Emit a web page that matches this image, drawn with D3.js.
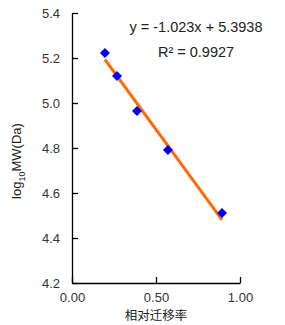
<!DOCTYPE html>
<html>
<head>
<meta charset="utf-8">
<script src="https://cdn.jsdelivr.net/npm/d3@7"></script>
<style>
  body { margin: 0; background: #fff; }
  text { font-family: "Liberation Sans", Arial, sans-serif; fill: #222; }
</style>
</head>
<body>
<div id="chart"></div>
<script>
// data
var migration = [0.196, 0.268, 0.387, 0.571, 0.893];
var logMW = [5.222, 5.120, 4.964, 4.791, 4.511];
var xTicks = [0, 0.5, 1.0];
var yTicks = [4.2, 4.4, 4.6, 4.8, 5.0, 5.2, 5.4];
var slope = -1.023, intercept = 5.3938;
var eqText = "y = -1.023x + 5.3938";
var r2Text = "R\u00b2 = 0.9927";

var margin = { top: 13, right: 45, bottom: 42, left: 72 },
  width = 285 - margin.left - margin.right,
  height = 325 - margin.top - margin.bottom;

var svg = d3.select("#chart")
  .append("svg")
  .attr("width", 285)
  .attr("height", 325)
  .append("g")
  .attr("transform", "translate(" + margin.left + "," + margin.top + ")");

var x = d3.scaleLinear().domain([0, 1]).range([0, width]);
var y = d3.scaleLinear().domain([4.2, 5.4]).range([height, 0]);

// axes, ticks pointing inward
var xAxis = svg.append("g")
  .attr("transform", "translate(0," + height + ")")
  .call(d3.axisBottom(x).tickValues(xTicks).tickFormat(d3.format(".2f")).tickSizeInner(-6).tickSizeOuter(0).tickPadding(10));
var yAxis = svg.append("g")
  .call(d3.axisLeft(y).tickValues(yTicks).tickFormat(d3.format(".1f")).tickSizeInner(-6).tickSizeOuter(0).tickPadding(12));

[xAxis, yAxis].forEach(function (a) {
  a.selectAll("path, line").attr("stroke", "#000").attr("stroke-width", 1.3);
  a.selectAll("text").style("font-size", "13px").style("fill", "#333")
    .style("font-family", "'Liberation Sans', Arial, sans-serif");
});

// trend line over the data range
var xmin = d3.min(migration), xmax = d3.max(migration);
svg.append("line")
  .attr("x1", x(xmin)).attr("y1", y(slope * xmin + intercept))
  .attr("x2", x(xmax)).attr("y2", y(slope * xmax + intercept))
  .attr("stroke", "#FF6A0A")
  .attr("stroke-width", 3);

// diamond markers
svg.selectAll(".pt")
  .data(migration)
  .enter().append("path")
  .attr("class", "pt")
  .attr("d", d3.symbol().type(d3.symbolSquare).size(50))
  .attr("transform", function (d, i) {
    return "translate(" + x(d) + "," + y(logMW[i]) + ") rotate(45)";
  })
  .attr("fill", "#0000F0");

// equation
svg.append("text")
  .attr("x", 124).attr("y", 19)
  .attr("text-anchor", "middle")
  .style("font-size", "14.5px")
  .text(eqText);
svg.append("text")
  .attr("x", 124).attr("y", 44)
  .attr("text-anchor", "middle")
  .style("font-size", "14.5px")
  .text(r2Text);

// axis labels
svg.append("text")
  .attr("x", width / 2).attr("y", height + 37)
  .attr("text-anchor", "middle")
  .style("font-size", "12.5px")
  .style("font-family", "'Noto Sans CJK SC', sans-serif")
  .text("相对迁移率");

var yl = svg.append("text")
  .attr("transform", "translate(-51," + (height / 2 + 13) + ") rotate(-90)")
  .attr("text-anchor", "middle")
  .style("font-size", "13px");
yl.append("tspan").text("log");
yl.append("tspan").attr("dy", 4).style("font-size", "9px").text("10");
yl.append("tspan").attr("dy", -4).text("MW(Da)");
</script>
</body>
</html>
